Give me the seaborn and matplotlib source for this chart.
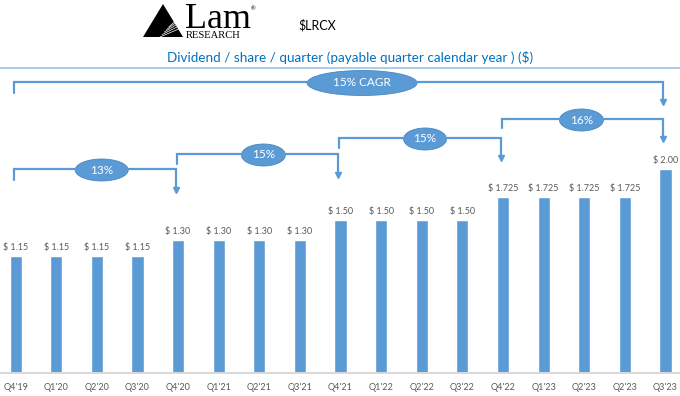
import matplotlib
matplotlib.use("Agg")
import matplotlib.pyplot as plt
import matplotlib.transforms as mtransforms
from matplotlib.patches import Ellipse, Polygon
from matplotlib.lines import Line2D
import seaborn as sns
import pandas as pd

# ---------------- data ----------------
quarters = ["Q4'19", "Q1'20", "Q2'20", "Q3'20", "Q4'20", "Q1'21", "Q2'21", "Q3'21",
            "Q4'21", "Q1'22", "Q2'22", "Q3'22", "Q4'22", "Q1'23", "Q2'23", "Q2'23", "Q3'23"]
dividends = [1.15, 1.15, 1.15, 1.15, 1.30, 1.30, 1.30, 1.30,
             1.50, 1.50, 1.50, 1.50, 1.725, 1.725, 1.725, 1.725, 2.00]

growth_start = [0, 4, 8, 12, 0]
growth_end = [4, 8, 12, 16, 16]
growth_labels = ["13%", "15%", "15%", "16%", "15% CAGR"]

title = "Dividend / share / quarter (payable quarter calendar year ) ($)"
ticker = "$LRCX"

# ---------------- style ----------------
sns.set_theme(style="white")
plt.rcParams['font.family'] = ['Lato', 'DejaVu Sans']

W, H = 680, 396
BLUE = "#5B9BD5"
GRAY = "#595959"

fig = plt.figure(figsize=(W / 100, H / 100), dpi=100)
ax = fig.add_axes([0, 23 / H, 1, 1 - 23 / H])

df = pd.DataFrame({"pos": list(range(len(dividends))), "value": dividends})
sns.barplot(data=df, x="pos", y="value", color=BLUE, saturation=1, width=0.3, ax=ax)

xlim = (-0.384, 16.357)
ax.set_xlim(*xlim)
ax.set_ylim(0, 373 / 102)
ax.set_xticks(range(len(quarters)))
ax.set_xticklabels(quarters, fontsize=6.5, color=GRAY)
ax.tick_params(axis="x", length=0, pad=7)
ax.set_yticks([])
ax.set_xlabel("")
ax.set_ylabel("")
for s in ["top", "left", "right"]:
    ax.spines[s].set_visible(False)
ax.spines["bottom"].set_color("#D9D9D9")
ax.spines["bottom"].set_linewidth(1.5)

def fmt(v):
    return f"$ {v:.3f}" if abs(round(v, 2) - v) > 1e-9 else f"$ {v:.2f}"

ax.bar_label(ax.containers[0], labels=[fmt(v) for v in dividends],
             padding=3, fontsize=6.5, color=GRAY)

# pixel transform (x from left, y from top)
px = mtransforms.Affine2D().scale(1 / W, -1 / H).translate(0, 1) + fig.transFigure

def xpx(i):
    return (i - xlim[0]) / (xlim[1] - xlim[0]) * W

# ---------------- header ----------------
# logo
fig.patches.append(Polygon([(143, 37), (163, 4), (183, 37)], closed=True,
                           facecolor="black", edgecolor="none", transform=px, figure=fig))
for k in range(5):
    fig.lines.append(Line2D([160 + k * 2.2, 181], [37 - k * 2.5, 28 - k * 3.0],
                            color="white", lw=0.5, transform=px, figure=fig))
fig.text(185 / W, 1 - 28 / H, "Lam", family="Liberation Serif", fontsize=26,
         color="black", ha="left", va="baseline")
fig.text(186 / W, 1 - 37.5 / H, "RESEARCH", family="Liberation Serif", fontsize=7.6,
         color="black", ha="left", va="baseline")
fig.text(251 / W, 1 - 10 / H, "®", fontsize=4, color="black", ha="left", va="baseline")

fig.text(298 / W, 1 - 25 / H, ticker, fontsize=9, color="black", ha="left", va="center")
fig.text(350 / W, 1 - 57 / H, title, fontsize=9.7, color="#0070C0", ha="center", va="center")
fig.lines.append(Line2D([0, W], [68, 68], color="#9DC3E6", lw=1.2, transform=px, figure=fig))

# ---------------- growth brackets ----------------
level_y = [169, 154, 138, 119, 82]
left_bottom = [180, 164, 148, 128, 93]
tip_y = [190, 175, 158, 139, 102]
ell_x = [2.12, 6.1, 10.08, 13.93, 8.53]
ell_w = [53, 44, 43, 44, 110]
ell_h = [22, 22, 22, 22, 25]

for s, e, lab, ly, lb, ty, ex, ew, eh in zip(growth_start, growth_end, growth_labels,
                                              level_y, left_bottom, tip_y, ell_x, ell_w, ell_h):
    x0, x1 = xpx(s) - 1.5, xpx(e) - 2.5
    fig.lines.append(Line2D([x0, x0, x1, x1], [lb, ly, ly, ty - 2], color=BLUE, lw=1.6,
                            transform=px, figure=fig, solid_joinstyle="miter"))
    fig.lines.append(Line2D([x1], [ty], marker="v", markersize=4, color=BLUE,
                            markeredgecolor=BLUE, transform=px, figure=fig))
    cx = xpx(ex)
    fig.patches.append(Ellipse((cx, ly + 1), ew, eh, facecolor=BLUE, edgecolor="#4A86C0",
                               lw=0.6, transform=px, figure=fig))
    fig.text(cx / W, 1 - (ly + 1) / H, lab, fontsize=8.5, color="white",
             ha="center", va="center")

fig.savefig("out.png", dpi=100)
